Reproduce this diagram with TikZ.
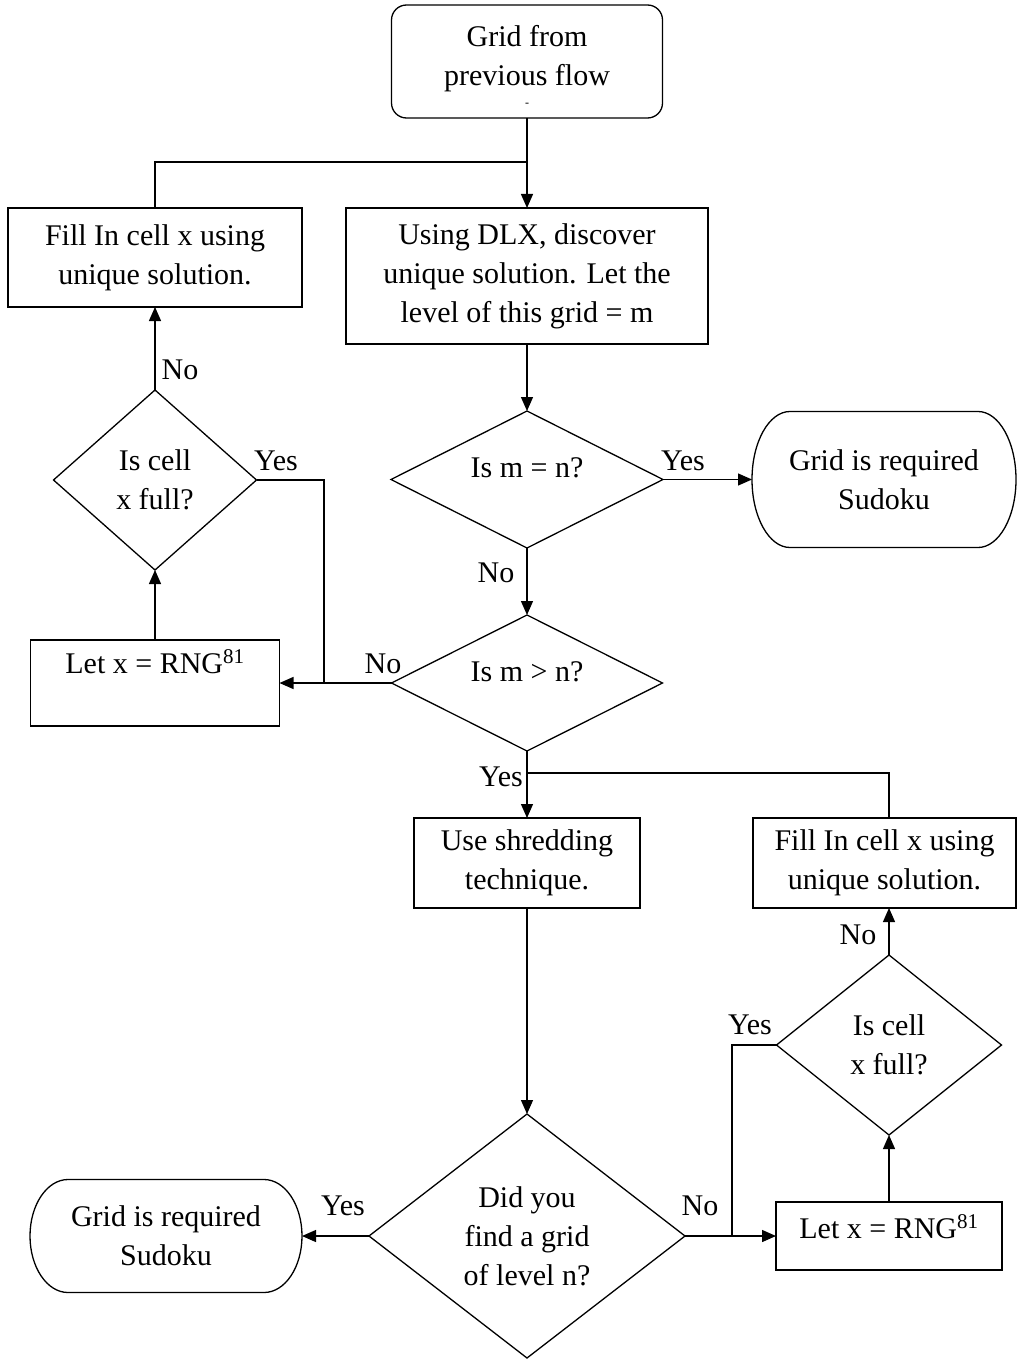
\documentclass[tikz,border=0pt]{standalone}
\usepackage{fontspec}
\setmainfont{Liberation Serif}
\usetikzlibrary{arrows.meta}
\newcommand\myfs{\fontsize{30}{39}\selectfont}
\tikzset{
  x=1pt, y=1pt,
  base/.style={inner sep=0pt, outer sep=0pt, align=center, font=\myfs},
  procbox/.style={base, draw, line width=1.3pt, rectangle},
  startbox/.style={procbox, rounded corners=15pt},
  ghost/.style={base, rectangle},
  conn/.style={line width=1.3pt},
  arr/.style={conn, -{Triangle[length=14pt,width=12pt]}},
  lbl/.style={font=\myfs, inner sep=0pt},
}
\begin{document}
\begin{tikzpicture}
\useasboundingbox (0,0) rectangle (1017,-1359);
% nodes
\node[startbox, minimum width=271, minimum height=113] (start) at (527,-61.5)
  {Grid from\\previous flow\\[-26pt]\smash{\raisebox{-8pt}{\fontsize{12}{12}\selectfont -}}};
\node[procbox, minimum width=362, minimum height=136] (dlx) at (527,-276)
  {Using DLX, discover\\unique solution. Let the\\level of this grid = m};
\node[procbox, minimum width=294, minimum height=99] (fillL) at (155,-257.5)
  {Fill In cell x using\\unique solution.};
\node[ghost, minimum width=272, minimum height=137, text height=21pt, text depth=25pt] (d1) at (527,-479.5) {Is m = n?};
\node[ghost, minimum width=264, minimum height=136] (t1) at (884,-479.5) {Grid is required\\Sudoku};
\node[ghost, minimum width=271, minimum height=136, text height=21pt, text depth=25pt] (d2) at (527,-683) {Is m > n?};
\node[procbox, minimum width=249, minimum height=86, text height=21pt, text depth=41pt] (letL) at (155,-683) {Let x = RNG\textsuperscript{81}};
\node[ghost, minimum width=203, minimum height=180] (dL) at (155,-480) {Is cell\\x full?};
\node[procbox, minimum width=226, minimum height=90] (shred) at (527,-863) {Use shredding\\technique.};
\node[procbox, minimum width=263, minimum height=90] (fillR) at (884.5,-863) {Fill In cell x using\\unique solution.};
\node[ghost, minimum width=316, minimum height=244] (d3) at (527,-1236) {Did you\\find a grid\\of level n?};
\node[ghost, minimum width=272, minimum height=113] (t2) at (166,-1236) {Grid is required\\Sudoku};
\node[procbox, minimum width=226, minimum height=68, text height=21pt, text depth=17pt] (letR) at (889,-1236) {Let x = RNG\textsuperscript{81}};
\node[ghost, minimum width=225, minimum height=180] (dR) at (889,-1045) {Is cell\\x full?};
% diamond outlines
\foreach \d in {d1,d2,dL,d3,dR}
  \draw[conn, line join=miter] (\d.north) -- (\d.east) -- (\d.south) -- (\d.west) -- cycle;
% terminator outlines
\draw[conn] ([xshift=38]t1.north west) -- ([xshift=-38]t1.north east)
  arc[start angle=90, end angle=-90, x radius=38, y radius=68]
  -- ([xshift=38]t1.south west)
  arc[start angle=270, end angle=90, x radius=38, y radius=68];
\draw[conn] ([xshift=38]t2.north west) -- ([xshift=-38]t2.north east)
  arc[start angle=90, end angle=-90, x radius=38, y radius=56.5]
  -- ([xshift=38]t2.south west)
  arc[start angle=270, end angle=90, x radius=38, y radius=56.5];
% junction coordinates
\coordinate (j1) at (527,-162);
\coordinate (j2) at (324,-683);
\coordinate (j3) at (527,-773);
\coordinate (j4) at (732,-1236);
% connectors
\draw[arr] (start.south) -- (dlx.north);
\draw[conn] (fillL.north) |- (j1);
\draw[arr] (dlx.south) -- (d1.north);
\draw[arr] (d1.east) -- (t1.west);
\draw[arr] (d1.south) -- (d2.north);
\draw[arr] (d2.west) -- (letL.east);
\draw[conn] (dL.east) -| (j2);
\draw[arr] (letL.north) -- (dL.south);
\draw[arr] (dL.north) -- (fillL.south);
\draw[arr] (d2.south) -- (shred.north);
\draw[conn] (dR.north |- fillR.north) |- (j3);
\draw[arr] (shred.south) -- (d3.north);
\draw[arr] (d3.west) -- (t2.east);
\draw[arr] (d3.east) -- (letR.west);
\draw[conn] (dR.west) -| (j4);
\draw[arr] (letR.north) -- (dR.south);
\draw[arr] (dR.north) -- (dR.north |- fillR.south);
% labels
\node[lbl] (l1) at (683,-461) {Yes};
\node[lbl] (l2) at (496,-573) {No};
\node[lbl] (l3) at (383,-664) {No};
\node[lbl] (l4) at (276,-461) {Yes};
\node[lbl] (l5) at (180,-370) {No};
\node[lbl] (l6) at (501,-777) {Yes};
\node[lbl] (l7) at (343,-1206) {Yes};
\node[lbl] (l8) at (700,-1206) {No};
\node[lbl] (l9) at (750,-1025) {Yes};
\node[lbl] (l10) at (858,-935) {No};
\end{tikzpicture}
\end{document}
